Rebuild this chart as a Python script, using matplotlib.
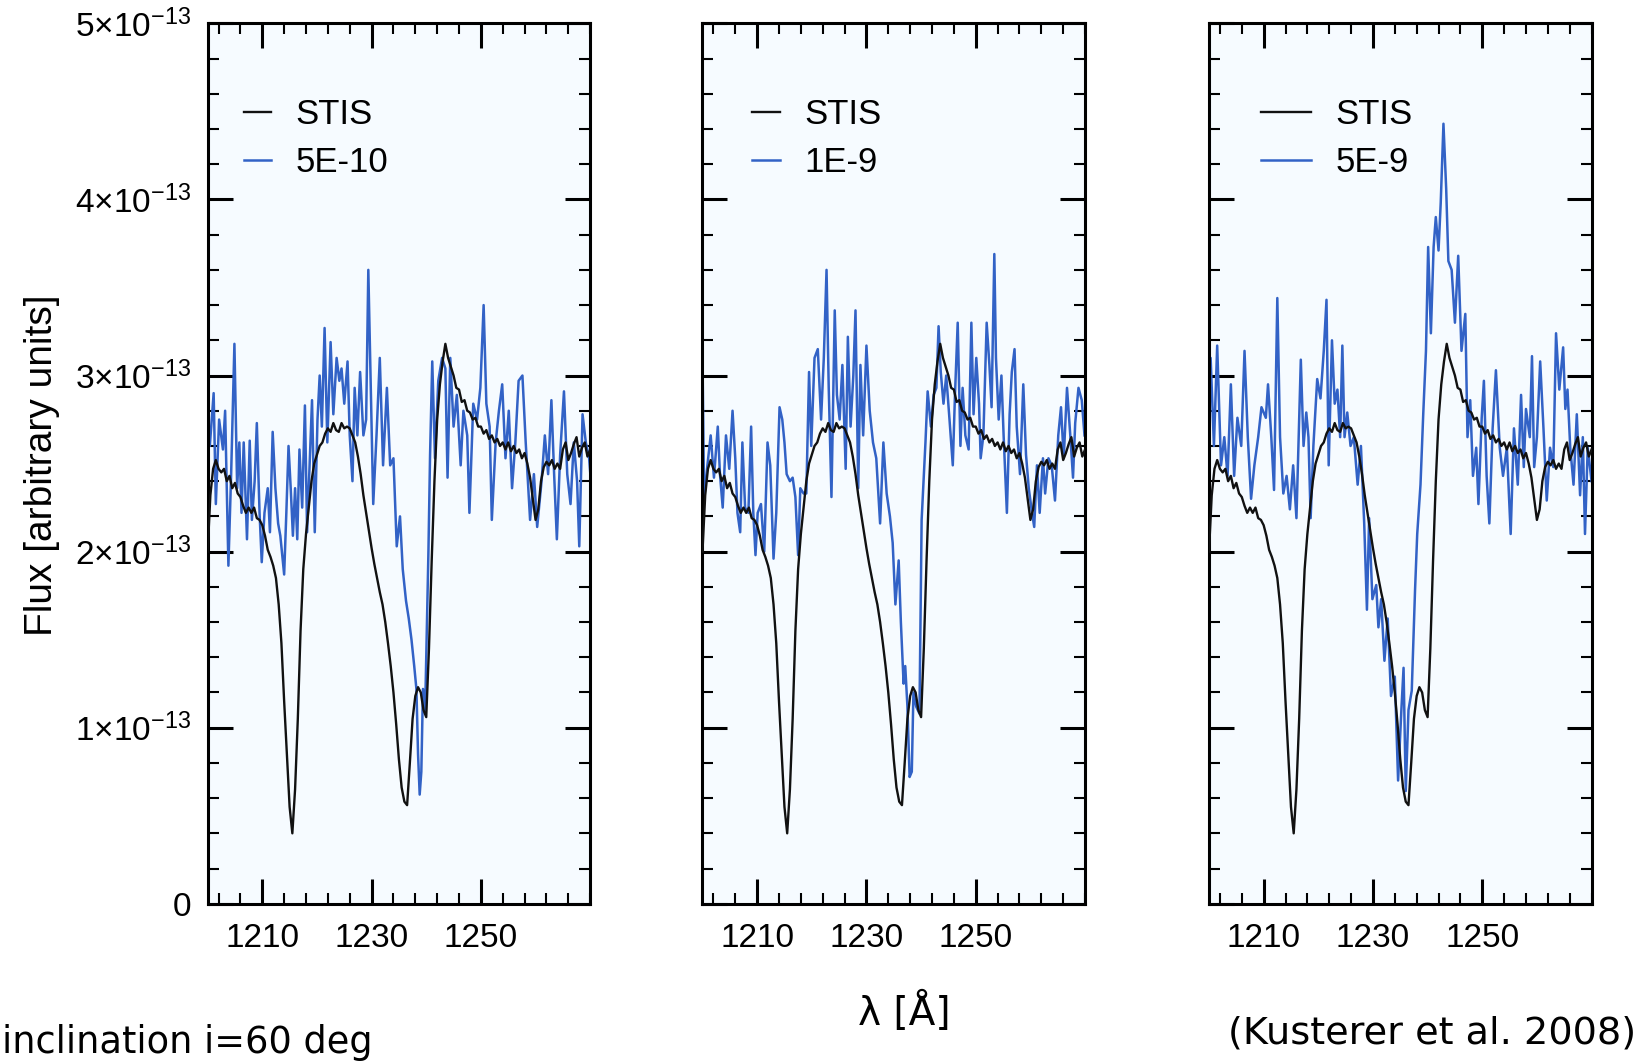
import numpy as np
import matplotlib
matplotlib.use('Agg')
import matplotlib.pyplot as plt
from matplotlib.ticker import FixedLocator, MultipleLocator, FuncFormatter

plt.rcParams['font.family'] = ['Liberation Sans', 'DejaVu Sans']

# flux values in units of 1e-13
unit = 1e-13

# STIS spectrum (same in all three panels), 1200-1270 A every 0.5 A
wl_stis = np.arange(1200.0, 1270.01, 0.5)
stis = [
    2.00, 2.32, 2.47, 2.52, 2.47, 2.45, 2.47, 2.40, 2.43, 2.36,
    2.39, 2.33, 2.31, 2.26, 2.22, 2.25, 2.22, 2.25, 2.19, 2.18,
    2.15, 2.09, 2.01, 1.97, 1.92, 1.85, 1.70, 1.48, 1.15, 0.85,
    0.55, 0.40, 0.65, 1.05, 1.55, 1.90, 2.10, 2.25, 2.40, 2.50,
    2.55, 2.60, 2.62, 2.67, 2.70, 2.68, 2.73, 2.69, 2.68, 2.73,
    2.70, 2.71, 2.70, 2.66, 2.62, 2.54, 2.44, 2.32, 2.22, 2.12,
    2.02, 1.93, 1.85, 1.77, 1.70, 1.60, 1.48, 1.35, 1.20, 1.02,
    0.82, 0.66, 0.58, 0.56, 0.80, 1.05, 1.18, 1.23, 1.20, 1.10,
    1.06, 1.45, 1.95, 2.40, 2.75, 2.95, 3.08, 3.18, 3.10, 3.05,
    3.00, 2.93, 2.92, 2.85, 2.86, 2.80, 2.79, 2.75, 2.76, 2.71,
    2.71, 2.67, 2.69, 2.64, 2.66, 2.62, 2.64, 2.60, 2.62, 2.58,
    2.62, 2.57, 2.60, 2.56, 2.58, 2.53, 2.56, 2.50, 2.42, 2.30,
    2.18, 2.24, 2.40, 2.48, 2.51, 2.49, 2.52, 2.47, 2.50, 2.47,
    2.58, 2.62, 2.52, 2.56, 2.61, 2.65, 2.54, 2.59, 2.62, 2.54,
    2.58,
]

# model 5E-10
wl_a = [
    1200.0, 1200.4, 1201.1, 1201.5, 1202.1, 1202.8, 1203.2, 1203.8, 1204.3, 1204.9,
    1205.4, 1205.8, 1206.2, 1206.6, 1207.2, 1207.7, 1208.1, 1208.6, 1209.0, 1209.5,
    1209.9, 1210.4, 1211.0, 1211.4, 1211.9, 1212.4, 1212.9, 1213.3, 1214.0, 1214.4,
    1214.8, 1215.2, 1215.6, 1216.0, 1216.4, 1216.8, 1217.3, 1217.8, 1218.2, 1218.7,
    1219.1, 1219.6, 1220.1, 1220.5, 1220.9, 1221.4, 1221.9, 1222.5, 1223.0, 1223.6,
    1224.1, 1224.5, 1225.0, 1225.6, 1226.0, 1226.5, 1226.9, 1227.4, 1227.9, 1228.5,
    1229.0, 1229.4, 1229.8, 1230.3, 1230.9, 1231.5, 1232.1, 1232.8, 1233.4, 1234.0,
    1234.6, 1235.2, 1235.7, 1236.3, 1236.8, 1237.3, 1237.8, 1238.2, 1238.5, 1238.8,
    1239.1, 1239.4, 1239.8, 1240.4, 1240.7, 1241.1, 1241.6, 1242.2, 1242.9, 1243.5,
    1243.9, 1244.4, 1245.0, 1245.6, 1246.3, 1246.8, 1247.5, 1247.9, 1248.6, 1249.3,
    1249.9, 1250.5, 1251.0, 1251.6, 1252.0, 1252.7, 1253.3, 1253.9, 1254.5, 1255.1,
    1255.7, 1256.3, 1256.9, 1257.6, 1258.2, 1259.0, 1259.7, 1260.3, 1261.1, 1261.7,
    1262.3, 1262.9, 1263.4, 1263.9, 1264.5, 1265.2, 1265.8, 1266.4, 1267.0, 1267.6,
    1268.0, 1268.6, 1269.2, 1269.8, 1270.0,
]
flux_a = [
    2.80, 2.60, 2.90, 2.27, 2.75, 2.58, 2.80, 1.92, 2.44, 3.18,
    2.36, 2.62, 2.22, 2.62, 2.07, 2.63, 2.18, 2.40, 2.73, 2.22,
    1.94, 2.22, 2.36, 2.11, 2.68, 2.36, 2.16, 2.09, 1.87, 2.22,
    2.60, 2.36, 2.09, 2.36, 2.07, 2.58, 2.25, 2.83, 2.11, 2.53,
    2.86, 2.11, 2.75, 3.00, 2.71, 3.27, 2.62, 3.19, 2.78, 3.10,
    2.97, 3.04, 2.84, 3.08, 2.66, 2.40, 2.93, 2.66, 3.02, 2.66,
    2.75, 3.60, 3.00, 2.27, 2.66, 3.10, 2.49, 2.93, 2.49, 2.53,
    2.03, 2.20, 1.90, 1.72, 1.62, 1.50, 1.35, 1.22, 0.85, 0.62,
    0.75, 1.22, 1.10, 2.00, 2.55, 3.08, 2.53, 2.97, 3.10, 3.04,
    2.42, 3.10, 2.71, 2.89, 2.49, 2.80, 2.66, 2.22, 2.84, 2.75,
    2.93, 3.40, 2.84, 2.71, 2.18, 2.62, 2.80, 2.95, 2.53, 2.80,
    2.36, 2.62, 2.97, 3.00, 2.62, 2.18, 2.44, 2.14, 2.40, 2.66,
    2.44, 2.86, 2.44, 2.07, 2.55, 2.91, 2.44, 2.27, 2.62, 2.40,
    2.03, 2.78, 2.62, 2.53, 2.45,
]

# model 1E-9
wl_b = [
    1200.0, 1200.3, 1200.9, 1201.5, 1202.1, 1202.8, 1203.2, 1203.7, 1204.3, 1204.9,
    1205.5, 1206.0, 1206.4, 1206.9, 1207.3, 1207.8, 1208.4, 1208.9, 1209.3, 1209.7,
    1210.1, 1210.7, 1211.3, 1211.9, 1212.4, 1213.0, 1213.5, 1214.1, 1214.6, 1215.0,
    1215.4, 1216.0, 1216.5, 1217.0, 1217.5, 1217.9, 1218.5, 1219.0, 1219.5, 1219.9,
    1220.5, 1221.1, 1221.7, 1222.2, 1222.7, 1223.1, 1223.6, 1224.2, 1224.6, 1225.1,
    1225.6, 1226.2, 1226.6, 1227.1, 1227.6, 1228.0, 1228.5, 1228.9, 1229.4, 1230.0,
    1230.6, 1231.2, 1231.8, 1232.5, 1233.1, 1233.7, 1234.3, 1234.8, 1235.3, 1235.9,
    1236.3, 1236.8, 1237.1, 1237.5, 1237.9, 1238.3, 1238.6, 1239.1, 1239.7, 1240.1,
    1240.8, 1241.2, 1241.8, 1242.3, 1242.8, 1243.2, 1243.6, 1244.1, 1244.6, 1245.2,
    1245.8, 1246.2, 1246.7, 1247.2, 1247.6, 1248.1, 1248.7, 1249.2, 1249.6, 1250.1,
    1250.6, 1250.9, 1251.4, 1252.0, 1252.5, 1252.9, 1253.4, 1253.7, 1254.2, 1254.7,
    1255.1, 1255.7, 1256.2, 1256.6, 1257.1, 1257.5, 1258.1, 1258.7, 1259.2, 1259.7,
    1260.3, 1260.7, 1261.2, 1261.7, 1262.3, 1262.7, 1263.3, 1263.9, 1264.5, 1265.1,
    1265.6, 1266.1, 1266.7, 1267.3, 1267.8, 1268.2, 1268.8, 1269.4, 1269.9,
]
flux_b = [
    3.10, 2.30, 2.49, 2.66, 2.42, 2.71, 2.44, 2.25, 2.66, 2.47,
    2.80, 2.53, 2.22, 2.11, 2.62, 2.25, 2.22, 2.71, 2.22, 1.98,
    2.22, 2.27, 2.00, 2.62, 2.49, 1.96, 2.22, 2.82, 2.75, 2.62,
    2.44, 2.40, 2.42, 2.31, 1.98, 2.36, 2.33, 2.33, 3.02, 2.60,
    3.10, 3.15, 2.75, 3.10, 3.60, 2.93, 2.31, 3.37, 2.89, 2.75,
    3.06, 2.47, 3.22, 2.71, 3.00, 3.37, 2.36, 3.06, 2.66, 3.17,
    2.80, 2.62, 2.53, 2.16, 2.62, 2.33, 2.20, 2.05, 1.70, 1.95,
    1.60, 1.25, 1.35, 1.12, 0.72, 0.75, 1.20, 1.12, 1.08, 2.18,
    2.62, 2.91, 2.71, 2.89, 2.93, 3.28, 3.02, 2.84, 3.00, 2.75,
    2.49, 2.89, 3.30, 2.60, 2.93, 2.66, 2.58, 3.30, 2.78, 3.10,
    2.84, 2.53, 2.66, 3.30, 3.06, 2.82, 3.69, 3.10, 2.75, 3.00,
    2.66, 2.22, 2.78, 3.02, 3.15, 2.71, 2.44, 2.95, 2.55, 2.36,
    2.22, 2.14, 2.49, 2.22, 2.53, 2.33, 2.53, 2.49, 2.29, 2.66,
    2.82, 2.53, 2.93, 2.66, 2.42, 2.73, 2.93, 2.86, 2.66,
]

# model 5E-9
wl_c = [
    1200.0, 1200.3, 1200.9, 1201.5, 1202.2, 1202.8, 1203.4, 1204.0, 1204.6, 1205.2,
    1205.9, 1206.5, 1207.1, 1207.7, 1208.3, 1209.0, 1209.6, 1210.4, 1210.8, 1211.4,
    1211.9, 1212.5, 1213.0, 1213.6, 1214.2, 1214.8, 1215.4, 1216.0, 1216.8, 1217.3,
    1217.8, 1218.2, 1218.6, 1219.1, 1219.8, 1220.4, 1221.0, 1221.5, 1221.9, 1222.5,
    1223.0, 1223.5, 1224.0, 1224.4, 1224.8, 1225.3, 1225.9, 1226.5, 1227.2, 1227.8,
    1228.4, 1228.9, 1229.3, 1229.9, 1230.6, 1231.0, 1231.5, 1232.1, 1232.7, 1233.3,
    1234.0, 1234.6, 1235.2, 1235.6, 1236.0, 1236.5, 1237.1, 1237.7, 1238.1, 1238.7,
    1239.2, 1239.7, 1240.1, 1240.6, 1241.1, 1241.5, 1242.0, 1242.4, 1242.9, 1243.4,
    1243.8, 1244.4, 1245.0, 1245.6, 1246.2, 1246.9, 1247.3, 1247.8, 1248.3, 1248.9,
    1249.3, 1249.9, 1250.3, 1250.8, 1251.3, 1251.9, 1252.5, 1253.2, 1253.8, 1254.5,
    1255.2, 1255.8, 1256.5, 1257.1, 1257.6, 1258.0, 1258.7, 1259.1, 1259.5, 1260.0,
    1260.6, 1261.2, 1261.8, 1262.4, 1263.0, 1263.5, 1264.1, 1264.8, 1265.2, 1265.6,
    1266.1, 1266.7, 1267.3, 1267.9, 1268.4, 1268.8, 1269.3, 1270.0,
]
flux_c = [
    2.70, 3.10, 2.60, 3.17, 2.49, 2.65, 2.43, 2.95, 2.43, 2.76,
    2.60, 3.14, 2.65, 2.30, 2.49, 2.65, 2.82, 2.76, 2.95, 2.65,
    2.35, 3.44, 2.65, 2.33, 2.43, 2.24, 2.49, 2.19, 3.09, 2.60,
    2.79, 2.65, 2.19, 2.60, 2.98, 2.87, 3.14, 3.43, 2.49, 3.20,
    2.84, 2.92, 2.65, 3.17, 2.65, 2.79, 2.60, 2.65, 2.38, 2.60,
    2.16, 1.67, 2.19, 1.73, 1.81, 1.57, 1.73, 1.38, 1.62, 1.18,
    1.29, 0.70, 1.10, 1.34, 0.64, 1.10, 1.21, 1.78, 2.10, 2.38,
    2.78, 3.14, 3.73, 3.24, 3.73, 3.90, 3.71, 3.98, 4.43, 4.06,
    3.65, 3.60, 3.30, 3.68, 3.14, 3.35, 2.65, 2.86, 2.43, 2.59,
    2.27, 2.76, 2.97, 2.43, 2.16, 2.70, 3.03, 2.59, 2.43, 2.59,
    2.10, 2.70, 2.38, 2.89, 2.48, 2.81, 2.65, 3.11, 2.48, 2.65,
    3.08, 2.70, 2.29, 2.59, 2.48, 3.24, 2.92, 3.16, 2.81, 2.92,
    2.59, 2.38, 2.78, 2.32, 2.65, 2.10, 2.59, 2.40,
]

models = [(wl_a, flux_a), (wl_b, flux_b), (wl_c, flux_c)]
labels = ['5E-10', '1E-9', '5E-9']
x_major = [1210, 1230, 1250]
y_major = [0, 1, 2, 3, 4, 5]

black = '#111111'
blue = '#3262c6'
bg = '#f6fbff'

fig = plt.figure(figsize=(16.44, 10.62), dpi=100)
lefts = [0.1263, 0.4273, 0.7354]
width = 0.2327
bottom = 0.149
height = 0.829

def ylab(v, pos):
    n = int(round(v / unit))
    if n == 0:
        return '0'
    return r'$\mathregular{%d{\times}10^{-13}}$' % n

# legend placement per panel: (x anchor, handle length)
leg_pos = [(0.094, 0.8), (0.13, 0.8), (0.135, 1.45)]

for i in range(3):
    ax = fig.add_axes([lefts[i], bottom, width, height])
    ax.set_facecolor(bg)
    ax.plot(wl_stis, np.array(stis) * unit, color=black, lw=1.7, label='STIS', zorder=3)
    wl, fl = models[i]
    ax.plot(wl, np.array(fl) * unit, color=blue, lw=1.8, label=labels[i], zorder=2)

    ax.set_xlim(1200, 1270)
    ax.set_ylim(0, 5 * unit)
    ax.xaxis.set_major_locator(FixedLocator(x_major))
    ax.xaxis.set_minor_locator(MultipleLocator(4, offset=2))
    ax.yaxis.set_major_locator(FixedLocator([v * unit for v in y_major]))
    ax.yaxis.set_minor_locator(MultipleLocator(0.2 * unit))
    ax.tick_params(which='both', direction='in', top=True, right=True)
    ax.tick_params(which='major', length=18, width=2.2, labelsize=24)
    ax.tick_params(which='minor', length=8, width=1.5)
    ax.tick_params(axis='x', which='major', pad=14)
    ax.tick_params(axis='y', which='major', pad=12)
    for s in ax.spines.values():
        s.set_linewidth(2.2)

    if i == 0:
        ax.yaxis.set_major_formatter(FuncFormatter(ylab))
    else:
        ax.set_yticklabels([])

    xa, hl = leg_pos[i]
    ax.legend(loc='upper left', bbox_to_anchor=(xa, 0.915), frameon=False,
              fontsize=25, handlelength=hl, handletextpad=0.7,
              labelspacing=0.42, borderaxespad=0, borderpad=0)

fig.text(0.0255, 0.562, 'Flux [arbitrary units]', rotation=90,
         ha='center', va='center', fontsize=28)
fig.text(0.55, 0.047, 'λ [Å]', ha='center', va='center', fontsize=28,
         family='DejaVu Sans')
fig.text(0.001, 0.018, 'inclination i=60 deg', ha='left', va='center',
         fontsize=26.5, family='DejaVu Sans')
fig.text(0.995, 0.027, '(Kusterer et al. 2008)', ha='right', va='center',
         fontsize=27.5, family='DejaVu Sans')

fig.savefig('out.png', dpi=100, facecolor='white')
